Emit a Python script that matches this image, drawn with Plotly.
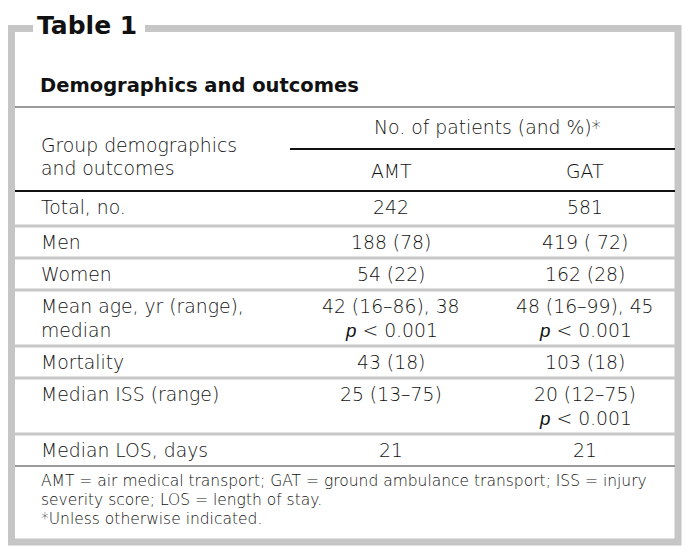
import plotly.graph_objects as go

# ---- data ----
title = "Table 1"
subtitle = "Demographics and outcomes"
stub_header = ["Group demographics", "and outcomes"]
span_header = "No. of patients (and %)*"
col_headers = ["AMT", "GAT"]
P = "<span style=\"font-family:'Liberation Sans';font-style:italic\">p</span> &lt; 0.001"
categories = [
    ["Total, no."],
    ["Men"],
    ["Women"],
    ["Mean age, yr (range),", "median"],
    ["Mortality"],
    ["Median ISS (range)"],
    ["Median LOS, days"],
]
amt_values = [
    ["242"],
    ["188 (78)"],
    ["54 (22)"],
    ["42 (16–86), 38", P],
    ["43 (18)"],
    ["25 (13–75)"],
    ["21"],
]
gat_values = [
    ["581"],
    ["419 ( 72)"],
    ["162 (28)"],
    ["48 (16–99), 45", P],
    ["103 (18)"],
    ["20 (12–75)", P],
    ["21"],
]
footnotes = [
    "AMT = air medical transport; GAT = ground ambulance transport; ISS = injury",
    "severity score; LOS = length of stay.",
    "*Unless otherwise indicated.",
]

# ---- layout constants ----
W, H = 695, 559
FONT = "DejaVu Sans"
BODY = 18.8
FRAME = "#c6c6c6"
ROWLINE = "#c8c8c8"
X_LEFT_TXT = 39
X_IN_L, X_IN_R = 15, 675
COL_X = [391, 585]
SPAN_X = 487

fig = go.Figure()
shapes = []
ann = []


def text(x, y, s, size=BODY, anchor="left", weight=200, color="#111"):
    ann.append(dict(x=x, y=y, xref="x", yref="y", text=s, showarrow=False,
                    xanchor=anchor, yanchor="middle",
                    font=dict(family=FONT, size=size, color=color, weight=weight)))


def hline(y, x0, x1, color, width):
    shapes.append(dict(type="line", xref="x", yref="y", x0=x0, x1=x1, y0=y, y1=y,
                       line=dict(color=color, width=width)))


# frame
shapes.append(dict(type="rect", xref="x", yref="y", x0=11.5, x1=678, y0=28.5, y1=542,
                   line=dict(color=FRAME, width=7), fillcolor="rgba(0,0,0,0)"))
shapes.append(dict(type="rect", xref="x", yref="y", x0=33, x1=145, y0=20, y1=36,
                   line=dict(width=0), fillcolor="white"))
text(35, 25, title, size=25, weight=700, color="#111")
text(X_LEFT_TXT - 1, 85, subtitle, size=19.5, weight=700, color="#111")
hline(107, X_IN_L, X_IN_R, "#9a9a9a", 2)

# header
text(X_LEFT_TXT, 145, stub_header[0])
text(X_LEFT_TXT, 168, stub_header[1])
text(SPAN_X, 127, span_header, anchor="center")
hline(149, 290, X_IN_R, "#111", 2)
for cx, h in zip(COL_X, col_headers):
    text(cx, 171, h, anchor="center")
hline(191, X_IN_L, X_IN_R, "#111", 2)

# body
top = 191
LINE_GAP = 23.5
for i, (cat, a, g) in enumerate(zip(categories, amt_values, gat_values)):
    nlines = max(len(cat), len(a), len(g))
    for k, s in enumerate(cat):
        text(X_LEFT_TXT, top + 16.5 + LINE_GAP * k, s)
    for k, s in enumerate(a):
        text(COL_X[0], top + 16.5 + LINE_GAP * k, s, anchor="center")
    for k, s in enumerate(g):
        text(COL_X[1], top + 16.5 + LINE_GAP * k, s, anchor="center")
    h = 32 if nlines == 1 else 56
    if i == 0:
        h += 3
    top += h
    if i < len(categories) - 1:
        hline(top, X_IN_L, X_IN_R, ROWLINE, 3)
    else:
        hline(top, X_IN_L, X_IN_R, "#9a9a9a", 2)

# footnotes
fy = top + 15
for k, s in enumerate(footnotes):
    text(X_LEFT_TXT, fy + 19 * k, s, size=15.5)

fig.update_layout(
    width=W, height=H, margin=dict(l=0, r=0, t=0, b=0),
    paper_bgcolor="white", plot_bgcolor="white",
    xaxis=dict(range=[0, W], visible=False, fixedrange=True),
    yaxis=dict(range=[H, 0], visible=False, fixedrange=True),
    shapes=shapes, annotations=ann, showlegend=False,
)
fig.write_html("out.html", config={"displayModeBar": False},
               post_script="document.body.style.margin='0';")
